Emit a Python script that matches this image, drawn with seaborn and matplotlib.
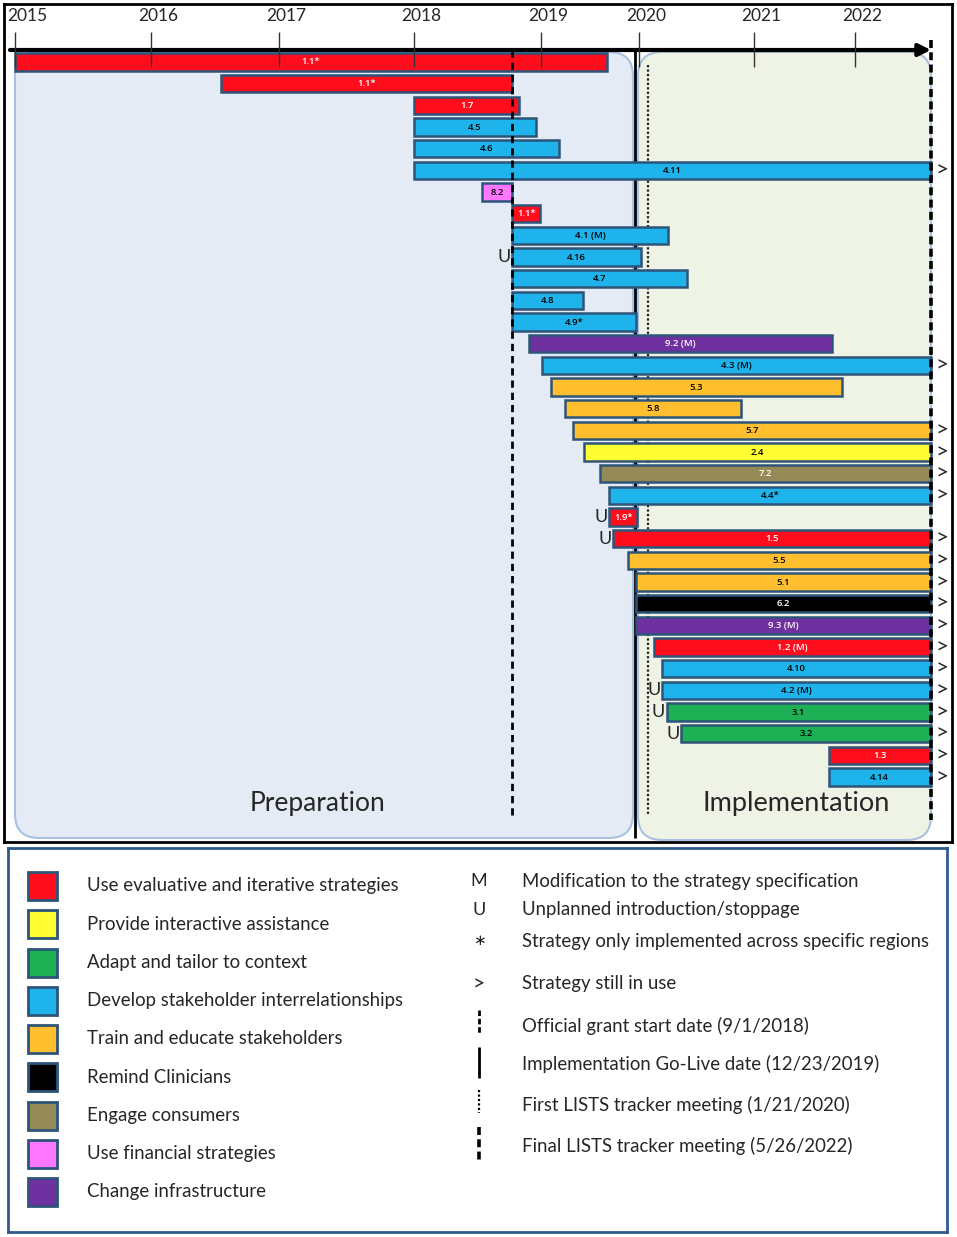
import numpy as np
import pandas as pd
import matplotlib
matplotlib.use("Agg")
import matplotlib.pyplot as plt
import seaborn as sns
from matplotlib.patches import FancyBboxPatch, Rectangle
from matplotlib.transforms import IdentityTransform

# strategies, top to bottom (start / end as decimal years)
labels = ["1.1*", "1.1*", "1.7", "4.5", "4.6", "4.11", "8.2", "1.1*", "4.1 (M)", "4.16",
          "4.7", "4.8", "4.9*", "9.2 (M)", "4.3 (M)", "5.3", "5.8", "5.7", "2.4", "7.2",
          "4.4*", "1.9*", "1.5", "5.5", "5.1", "6.2", "9.3 (M)", "1.2 (M)", "4.10", "4.2 (M)",
          "3.1", "3.2", "1.3", "4.14"]
starts = [2015.0, 2016.55, 2018.0, 2018.0, 2018.0, 2018.0, 2018.46, 2018.67, 2018.67, 2018.67,
          2018.67, 2018.67, 2018.67, 2018.86, 2019.01, 2019.10, 2019.25, 2019.33, 2019.45, 2019.61,
          2019.71, 2019.71, 2019.75, 2019.90, 2019.98, 2019.98, 2019.98, 2020.11, 2020.18, 2020.18,
          2020.22, 2020.35, 2021.74, 2021.74]
ends = [2019.68, 2018.67, 2018.75, 2018.94, 2019.19, 2022.4, 2018.67, 2018.99, 2020.23, 2020.01,
        2020.40, 2019.44, 2019.98, 2021.77, 2022.4, 2021.87, 2020.88, 2022.4, 2022.4, 2022.4,
        2022.4, 2019.99, 2022.4, 2022.4, 2022.4, 2022.4, 2022.4, 2022.4, 2022.4, 2022.4,
        2022.4, 2022.4, 2022.4, 2022.4]
categories = ["eval", "eval", "eval", "stake", "stake", "stake", "finance", "eval", "stake", "stake",
              "stake", "stake", "stake", "infra", "stake", "train", "train", "train", "assist", "consumer",
              "stake", "eval", "eval", "train", "train", "remind", "infra", "eval", "stake", "stake",
              "adapt", "adapt", "eval", "stake"]
unplanned = [0, 0, 0, 0, 0, 0, 0, 0, 0, 1,
             0, 0, 0, 0, 0, 0, 0, 0, 0, 0,
             0, 1, 1, 0, 0, 0, 0, 0, 0, 1,
             1, 1, 0, 0]

years = [2015, 2016, 2017, 2018, 2019, 2020, 2021, 2022]
grant_start = 2018.667    # 9/1/2018
go_live = 2019.975        # 12/23/2019
first_meeting = 2020.055  # 1/21/2020
final_meeting = 2022.4    # 5/26/2022

cat_keys = ["eval", "assist", "adapt", "stake", "train", "remind", "consumer", "finance", "infra"]
cat_names = ["Use evaluative and iterative strategies", "Provide interactive assistance",
             "Adapt and tailor to context", "Develop stakeholder interrelationships",
             "Train and educate stakeholders", "Remind Clinicians", "Engage consumers",
             "Use financial strategies", "Change infrastructure"]
cat_colors = ["#ff0d1d", "#ffff33", "#1db054", "#1fb3ec", "#ffbf2e", "#000000", "#958a55",
              "#ff77ff", "#7031a0"]
white_text = {"eval", "remind", "consumer", "infra"}

# hand-drawn timeline is not uniform: calibration of year -> position along the axis
axis_years = [2014.0, 2015, 2016, 2017, 2018, grant_start, 2019, go_live, first_meeting,
              2021, 2022, final_meeting, 2023.5]
axis_pos = [-121, 15, 151, 279, 414, 512, 541, 635, 648, 754, 855, 931, 1140]


def fwd(x):
    return np.interp(x, axis_years, axis_pos)


def inv(x):
    return np.interp(x, axis_pos, axis_years)


df = pd.DataFrame({"label": labels, "start": starts, "end": ends,
                   "category": categories, "unplanned": unplanned})
df["row"] = np.arange(len(df))
df["ongoing"] = df["end"] >= final_meeting
palette = dict(zip(cat_keys, cat_colors))

sns.set_theme(style="white")
plt.rcParams["font.family"] = ["Lato", "DejaVu Sans"]

W, H = 957, 1237
fig = plt.figure(figsize=(W / 100, H / 100), dpi=100)
ax = fig.add_axes([4 / W, (H - 842) / H, 948 / W, 838 / H])
ax.set_xscale("function", functions=(fwd, inv))
ax.set_xlim(inv(4), inv(952))
row_h = 21.67
ax.set_ylim((842 - 62) / row_h, (4 - 62) / row_h)
ax.set_xticks([])
ax.set_yticks([])
for s in ax.spines.values():
    s.set_color("black")
    s.set_linewidth(2)
    s.set_zorder(10)


def r(y):
    return (y - 62) / row_h


# phase boxes (drawn in display pixels so corners stay round)
top_y = H - 52
for x0, x1, bottom, fc in [(2015.0, inv(633), H - 838, "#e5ebf5"),
                           (inv(638), final_meeting, H - 840, "#eff3e5")]:
    X0 = ax.transData.transform((x0, 0))[0]
    X1 = ax.transData.transform((x1, 0))[0]
    box = FancyBboxPatch((X0, bottom), X1 - X0, top_y - bottom,
                         boxstyle="round,pad=0,rounding_size=24",
                         fc=fc, ec="#a8c1e0", lw=1.5, transform=IdentityTransform(), zorder=0)
    ax.add_patch(box)

ax.text(inv(317), r(803), "Preparation", ha="center", va="center", fontsize=19)
ax.text(inv(796), r(803), "Implementation", ha="center", va="center", fontsize=19.5)

# event lines
ax.vlines(go_live, r(50), r(838), color="black", lw=2, zorder=1)
ax.vlines(first_meeting, r(65), r(815), color="#222222", lw=1.6, linestyles=(0, (1, 1)), zorder=1)

# bars
ax.barh(df["row"], df["end"] - df["start"], left=df["start"], height=0.8,
        color=df["category"].map(palette), edgecolor="#2d5479", linewidth=1.8, zorder=2)

ax.vlines(grant_start, r(50), r(815), color="black", lw=2, linestyles=(0, (2.6, 1.8)), zorder=3)
ax.vlines(final_meeting, r(40), r(820), color="black", lw=2.6, linestyles=(0, (2.2, 1.2)), zorder=3)

for _, b in df.iterrows():
    mid = inv((fwd(b["start"]) + fwd(b["end"])) / 2)
    col = "white" if b["category"] in white_text else "black"
    ax.text(mid, b["row"], b["label"], ha="center", va="center", fontsize=6.8,
            family=["Open Sans", "DejaVu Sans"], weight="semibold", color=col, zorder=4)
    if b["ongoing"]:
        ax.annotate(">", (b["end"], b["row"]), xytext=(3, 0), textcoords="offset points",
                    ha="left", va="center", fontsize=16)
    if b["unplanned"]:
        ax.annotate("U", (b["start"], b["row"]), xytext=(-1, 0), textcoords="offset points",
                    ha="right", va="center", fontsize=13, zorder=4)

# timeline axis with year ticks
ax.annotate("", xy=(final_meeting, r(50)), xytext=(inv(10), r(50)),
            arrowprops=dict(arrowstyle="-|>", lw=3, color="black", mutation_scale=18,
                            shrinkA=0, shrinkB=0), zorder=5)
ax.vlines(years, r(32), r(67), color="#333333", lw=1, zorder=5)
for y in years:
    dx = 9 if y == years[0] else 5
    ax.annotate(str(y), (y, r(16)), xytext=(dx, 0), textcoords="offset points",
                ha="center", va="center", fontsize=12.5, zorder=5)

# legend panel
lg = fig.add_axes([8 / W, (H - 1232) / H, 939 / W, 384 / H])
lg.set_xlim(0, 939)
lg.set_ylim(384, 0)
lg.set_xticks([])
lg.set_yticks([])
for s in lg.spines.values():
    s.set_color("#2f5a8a")
    s.set_linewidth(2)

for i, (name, c) in enumerate(zip(cat_names, cat_colors)):
    yc = 38 + i * 38.25
    lg.add_patch(Rectangle((20, yc - 14), 29, 28, fc=c, ec="#2d5479", lw=2))
    lg.text(79, yc, name, va="center", fontsize=13.4)

sym_y = [33, 62, 93, 136, 178, 216, 257, 298]
sym_text = ["Modification to the strategy specification", "Unplanned introduction/stoppage",
            "Strategy only implemented across specific regions", "Strategy still in use",
            "Official grant start date (9/1/2018)", "Implementation Go-Live date (12/23/2019)",
            "First LISTS tracker meeting (1/21/2020)", "Final LISTS tracker meeting (5/26/2022)"]
for yc, t in zip(sym_y, sym_text):
    lg.text(514, yc, t, va="center", fontsize=13.4)
for yc, s, fs in zip(sym_y[:4], ["M", "U", "\u2217", ">"], [13, 13, 11, 15]):
    lg.text(471, yc, s, ha="center", va="center", fontsize=fs)
lg.vlines(471, 162, 185, color="black", lw=2, linestyles=(0, (2, 1)))
lg.vlines(471, 199, 230, color="black", lw=2)
lg.vlines(471, 242, 265, color="black", lw=1.6, linestyles=(0, (1, 1)))
lg.vlines(471, 279, 314, color="black", lw=2.6, linestyles=(0, (2.2, 1.2)))

fig.savefig("out.png", dpi=100)
